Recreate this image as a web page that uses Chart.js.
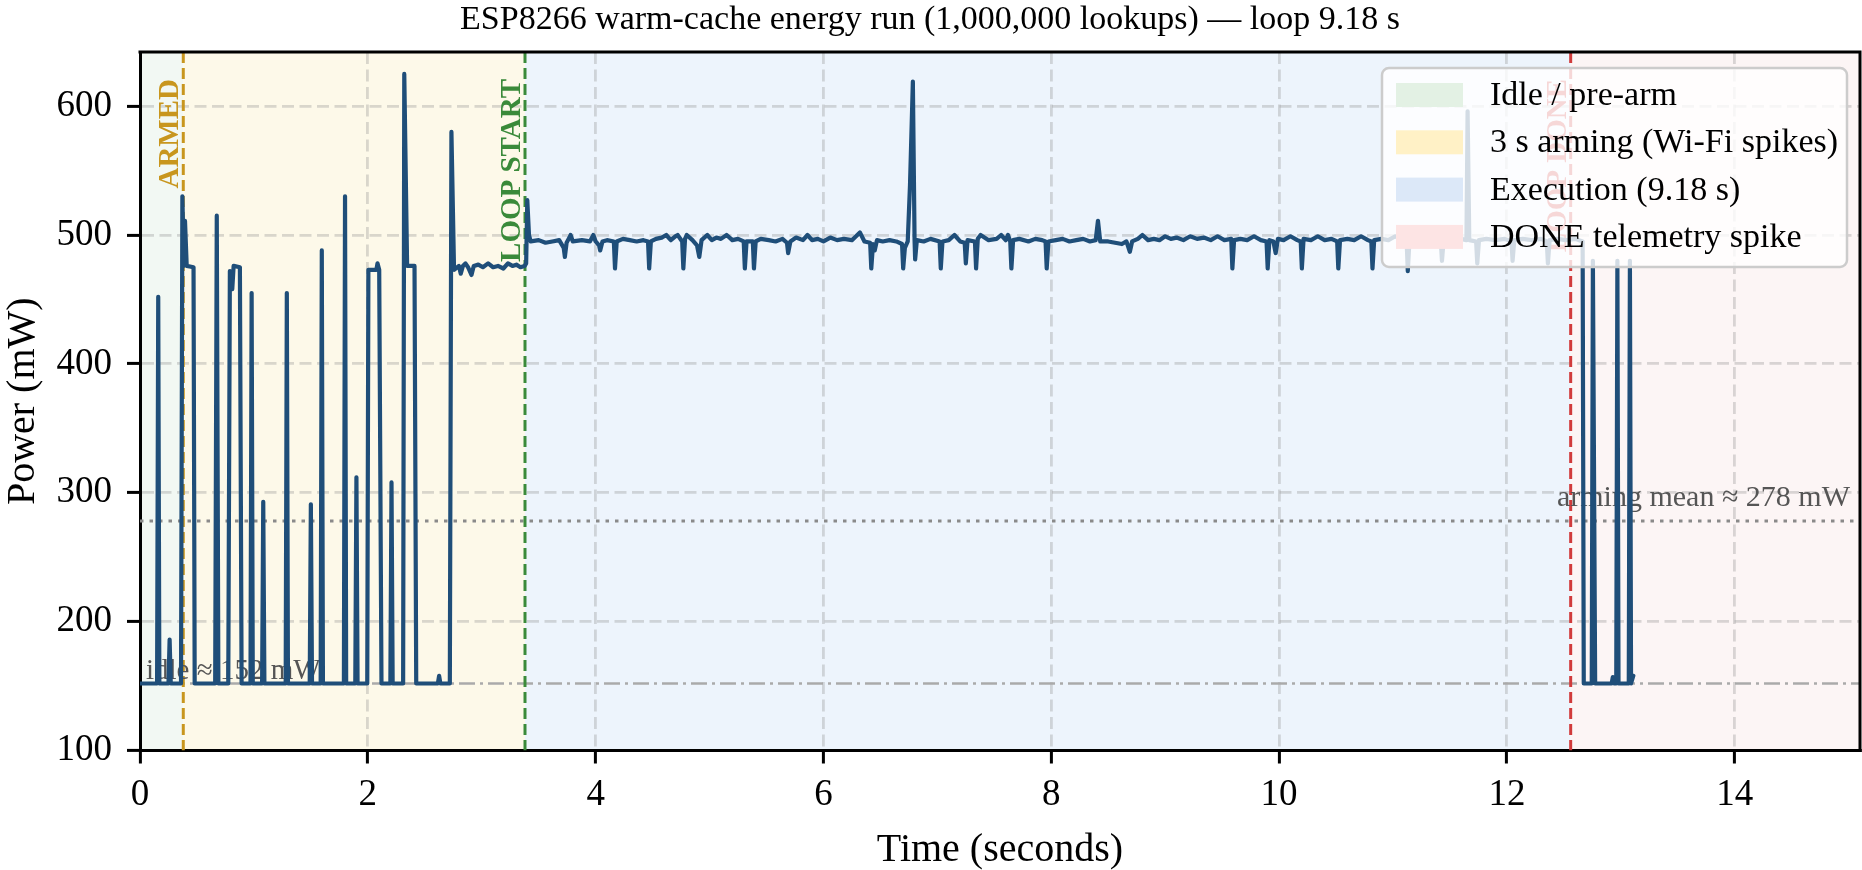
<!DOCTYPE html>
<html>
<head>
<meta charset="utf-8">
<script src="https://cdn.jsdelivr.net/npm/chart.js@4.4.1/dist/chart.umd.min.js"></script>
<style>
  html, body { margin: 0; padding: 0; background: #ffffff; }
  #wrap { width: 1862px; height: 870px; }
</style>
</head>
<body>
<div id="wrap"><canvas id="chart" width="1862" height="870"></canvas></div>
<script>
// ---------------- DATA ----------------
const chartTitle = 'ESP8266 warm-cache energy run (1,000,000 lookups) \u2014 loop 9.18 s';
const xAxisTitle = 'Time (seconds)';
const yAxisTitle = 'Power (mW)';

// phase boundaries (seconds) and names
const phaseBounds = [0, 0.38, 3.38, 12.56, 15.1];
const phaseLabels = ['Idle / pre-arm', '3 s arming (Wi-Fi spikes)', 'Execution (9.18 s)', 'DONE telemetry spike'];

// event markers
const markerTimes = [0.38, 3.38, 12.56];
const markerLabels = ['ARMED', 'LOOP START', 'LOOP DONE'];

// reference levels (mW)
const idleLevel = 152;
const armingMean = 278;
const idleText = 'idle \u2248 152 mW';
const meanText = 'arming mean \u2248 278 mW';

// axis ranges / ticks
const xRange = [0, 15.1];
const yRange = [100, 642];
const xTickStep = 2;
const yTickStep = 100;

// measured trace, [seconds, mW]
const idleArmingTrace = [
  [0, 152], [0.15, 152], [0.16, 452], [0.17, 152],
  [0.25, 152], [0.26, 186], [0.27, 152],
  [0.36, 152], [0.372, 530], [0.385, 476], [0.395, 511], [0.41, 476], [0.47, 475], [0.48, 152],
  [0.66, 152], [0.674, 515], [0.688, 152],
  [0.775, 152], [0.789, 472], [0.80, 470], [0.81, 458], [0.822, 476], [0.877, 475], [0.892, 152],
  [0.97, 152], [0.98, 455], [0.99, 152],
  [1.072, 152], [1.082, 293], [1.092, 152],
  [1.279, 152], [1.289, 455], [1.299, 152],
  [1.49, 152], [1.50, 291], [1.51, 152],
  [1.586, 152], [1.596, 488], [1.606, 152],
  [1.79, 152], [1.80, 530], [1.81, 152],
  [1.89, 152], [1.90, 312], [1.91, 152],
  [1.995, 152], [2.005, 473], [2.075, 473], [2.085, 478], [2.10, 473], [2.12, 152],
  [2.198, 152], [2.208, 308], [2.218, 152],
  [2.31, 152], [2.32, 625], [2.345, 476], [2.41, 476], [2.425, 152],
  [2.615, 152], [2.626, 158], [2.637, 152],
  [2.72, 152], [2.734, 580], [2.757, 473], [2.80, 476], [2.816, 470], [2.835, 476], [2.857, 478],
  [2.88, 475], [2.91, 469], [2.93, 476], [2.97, 477], [3.01, 475], [3.056, 478], [3.10, 475],
  [3.143, 476], [3.19, 474], [3.23, 478], [3.27, 476], [3.304, 477], [3.34, 475], [3.377, 476]
];

const executionTrace = [
  [3.39, 478], [3.40, 527], [3.415, 500], [3.43, 495],
  [3.50, 496], [3.56, 494], [3.62, 495], [3.68, 496], [3.72, 490], [3.73, 483], [3.745, 494],
  [3.77, 498], [3.78, 500], [3.80, 495], [3.88, 496], [3.95, 495], [3.98, 500], [4.00, 495],
  [4.03, 492], [4.04, 488], [4.06, 495], [4.10, 496], [4.16, 495], [4.17, 474], [4.185, 495],
  [4.24, 497], [4.30, 496], [4.36, 495], [4.42, 496], [4.46, 495], [4.47, 474], [4.485, 495],
  [4.53, 497], [4.58, 498], [4.62, 500], [4.66, 496], [4.70, 499], [4.72, 500], [4.76, 495],
  [4.77, 474], [4.785, 497], [4.80, 500], [4.85, 496], [4.89, 492], [4.91, 483], [4.93, 496],
  [4.98, 500], [5.02, 496], [5.06, 498], [5.10, 497], [5.15, 500], [5.20, 496], [5.25, 497],
  [5.30, 495], [5.31, 474], [5.325, 495], [5.38, 495], [5.39, 474], [5.405, 495], [5.45, 497],
  [5.52, 496], [5.58, 495], [5.64, 497], [5.68, 494], [5.69, 486], [5.71, 495], [5.76, 498],
  [5.82, 496], [5.86, 500], [5.90, 496], [5.95, 497], [6.00, 495], [6.06, 498], [6.12, 496],
  [6.18, 497], [6.25, 496], [6.32, 502], [6.36, 495], [6.41, 494], [6.42, 474], [6.435, 493],
  [6.45, 488], [6.47, 496], [6.52, 495], [6.58, 496], [6.64, 495], [6.69, 493], [6.70, 474],
  [6.715, 490], [6.74, 495], [6.76, 539], [6.785, 619], [6.80, 496], [6.805, 481], [6.82, 496],
  [6.88, 495], [6.94, 497], [7.02, 495], [7.03, 474], [7.045, 495], [7.10, 496], [7.15, 500],
  [7.20, 495], [7.24, 494], [7.25, 478], [7.265, 496], [7.33, 495], [7.34, 474], [7.355, 497],
  [7.38, 500], [7.45, 496], [7.52, 497], [7.56, 500], [7.60, 496], [7.62, 500], [7.64, 495],
  [7.65, 474], [7.665, 496], [7.72, 497], [7.80, 495], [7.86, 497], [7.92, 496], [7.95, 495],
  [7.96, 474], [7.975, 495], [8.04, 496], [8.10, 497], [8.16, 495], [8.22, 496], [8.28, 497],
  [8.34, 495], [8.39, 496], [8.41, 511], [8.43, 495], [8.50, 495], [8.56, 494], [8.62, 493],
  [8.66, 495], [8.69, 487], [8.71, 495], [8.76, 497], [8.80, 500], [8.85, 496], [8.90, 497],
  [8.95, 496], [9.00, 499], [9.05, 497], [9.10, 498], [9.16, 496], [9.22, 499], [9.28, 497],
  [9.34, 498], [9.40, 496], [9.46, 499], [9.52, 496], [9.58, 497], [9.59, 474], [9.605, 496],
  [9.66, 497], [9.72, 496], [9.78, 499], [9.84, 496], [9.89, 495], [9.90, 474], [9.915, 496],
  [9.95, 495], [9.97, 486], [9.99, 497], [10.04, 496], [10.10, 499], [10.16, 496], [10.19, 495],
  [10.20, 474], [10.215, 497], [10.28, 496], [10.34, 499], [10.40, 496], [10.46, 497], [10.51, 495],
  [10.52, 474], [10.535, 496], [10.60, 497], [10.66, 496], [10.72, 499], [10.78, 496], [10.81, 495],
  [10.82, 474], [10.835, 496], [10.90, 497], [10.96, 496], [11.02, 499], [11.08, 496], [11.12, 495],
  [11.13, 472], [11.145, 496], [11.20, 497], [11.28, 496], [11.36, 497], [11.42, 495], [11.43, 480],
  [11.445, 496], [11.52, 496], [11.60, 497], [11.645, 496], [11.655, 596], [11.67, 496], [11.73, 495],
  [11.74, 478], [11.755, 496], [11.82, 497], [11.90, 496], [11.98, 497], [12.04, 495], [12.05, 480],
  [12.065, 496], [12.14, 497], [12.22, 496], [12.30, 497], [12.35, 495], [12.36, 478], [12.375, 496],
  [12.44, 497], [12.52, 496], [12.60, 497], [12.665, 495]
];

const doneTrace = [
  [12.675, 152], [12.745, 152], [12.755, 480], [12.775, 152],
  [12.92, 152], [12.93, 157], [12.94, 152],
  [12.96, 152], [12.97, 480], [12.98, 152],
  [13.07, 152], [13.08, 480], [13.09, 152], [13.11, 158]
];

// ---------------- STYLE ----------------
const FONT = "'Liberation Serif', 'Times New Roman', serif";
const STYLE = {
  trace: '#1f4e79',
  bandFill: ['#f2f8f3', '#fdf9e9', '#edf4fc', '#fcf5f5'],
  legendSwatch: ['#e3f1e4', '#fff1c6', '#dce8f8', '#fde4e4'],
  marker: ['#c8961e', '#3a8a3a', '#d13b3b'],
  grid: 'rgba(150,150,150,0.35)',
  idleLine: '#aaaaaa',
  meanLine: '#8a8a8a',
  annot: '#555555'
};

const tracePoints = idleArmingTrace.concat(executionTrace, doneTrace).map(p => ({ x: p[0], y: p[1] }));

// ---------------- PLUGIN ----------------
const decorPlugin = {
  id: 'decor',
  beforeDraw(chart) {
    const { ctx, chartArea: a, scales: { x } } = chart;
    ctx.save();
    ctx.fillStyle = '#ffffff';
    ctx.fillRect(0, 0, chart.width, chart.height);
    for (let i = 0; i < phaseLabels.length; i++) {
      const x0 = Math.max(a.left, x.getPixelForValue(phaseBounds[i]));
      const x1 = Math.min(a.right, x.getPixelForValue(phaseBounds[i + 1]));
      ctx.fillStyle = STYLE.bandFill[i];
      ctx.fillRect(x0, a.top, x1 - x0, a.bottom - a.top);
    }
    ctx.restore();
  },
  beforeDatasetsDraw(chart) {
    const { ctx, chartArea: a, scales: { x, y } } = chart;
    ctx.save();
    ctx.beginPath();
    ctx.rect(a.left, a.top, a.right - a.left, a.bottom - a.top);
    ctx.clip();

    // horizontal reference lines
    const yIdle = y.getPixelForValue(idleLevel);
    ctx.strokeStyle = STYLE.idleLine; ctx.lineWidth = 2.5; ctx.setLineDash([16, 5, 3, 5]);
    ctx.beginPath(); ctx.moveTo(a.left, yIdle); ctx.lineTo(a.right, yIdle); ctx.stroke();
    const yMean = y.getPixelForValue(armingMean);
    ctx.strokeStyle = STYLE.meanLine; ctx.lineWidth = 3; ctx.setLineDash([3.5, 6]);
    ctx.beginPath(); ctx.moveTo(a.left, yMean); ctx.lineTo(a.right, yMean); ctx.stroke();

    // vertical markers
    ctx.lineWidth = 3; ctx.setLineDash([11, 5]);
    markerTimes.forEach((t, i) => {
      const px = x.getPixelForValue(t);
      ctx.strokeStyle = STYLE.marker[i];
      ctx.beginPath(); ctx.moveTo(px, a.top); ctx.lineTo(px, a.bottom); ctx.stroke();
    });
    ctx.setLineDash([]);

    // marker labels (rotated)
    ctx.font = 'bold 29px ' + FONT;
    ctx.textAlign = 'right';
    ctx.textBaseline = 'alphabetic';
    markerTimes.forEach((t, i) => {
      const px = x.getPixelForValue(t);
      ctx.save();
      ctx.translate(px - 5, a.top + 27);
      ctx.rotate(-Math.PI / 2);
      ctx.fillStyle = STYLE.marker[i];
      ctx.fillText(markerLabels[i], 0, 0);
      ctx.restore();
    });

    // annotation texts
    ctx.font = '29px ' + FONT;
    ctx.fillStyle = STYLE.annot;
    ctx.textAlign = 'left';
    ctx.fillText(idleText, a.left + 6, yIdle - 4);
    ctx.font = '30px ' + FONT;
    ctx.textAlign = 'right';
    ctx.fillText(meanText, a.right - 10, yMean - 15);
    ctx.restore();
  },
  afterDraw(chart) {
    const { ctx, chartArea: a } = chart;
    ctx.save();
    // top & right spines
    ctx.strokeStyle = '#000'; ctx.lineWidth = 3; ctx.setLineDash([]);
    ctx.beginPath();
    ctx.moveTo(a.left - 1.5, a.top); ctx.lineTo(a.right, a.top); ctx.lineTo(a.right, a.bottom + 1.5);
    ctx.stroke();

    // legend
    const lx = 1382, ly = 68, lw = 465, lh = 199, r = 7;
    ctx.beginPath();
    ctx.moveTo(lx + r, ly);
    ctx.arcTo(lx + lw, ly, lx + lw, ly + lh, r);
    ctx.arcTo(lx + lw, ly + lh, lx, ly + lh, r);
    ctx.arcTo(lx, ly + lh, lx, ly, r);
    ctx.arcTo(lx, ly, lx + lw, ly, r);
    ctx.closePath();
    ctx.fillStyle = 'rgba(255,255,255,0.8)';
    ctx.fill();
    ctx.strokeStyle = '#cccccc'; ctx.lineWidth = 2.5;
    ctx.stroke();
    ctx.font = '34px ' + FONT;
    ctx.textAlign = 'left';
    ctx.textBaseline = 'middle';
    phaseLabels.forEach((lab, i) => {
      const cy = 95 + i * 47.3;
      ctx.fillStyle = STYLE.legendSwatch[i];
      ctx.fillRect(1396, cy - 12, 67, 24);
      ctx.fillStyle = '#000';
      ctx.fillText(lab, 1490, cy + 1);
    });
    ctx.restore();
  }
};

// ---------------- CHART ----------------
const tickFont = { family: FONT, size: 37 };
const gridOpts = {
  color: STYLE.grid, lineWidth: 2.8,
  tickLength: 13, tickColor: '#000', tickWidth: 3, tickBorderDash: [0, 0]
};
const borderOpts = { display: true, color: '#000', width: 3, dash: [12, 5.5] };

new Chart(document.getElementById('chart').getContext('2d'), {
  type: 'line',
  data: {
    datasets: [{
      data: tracePoints,
      borderColor: STYLE.trace,
      borderWidth: 4.2,
      pointRadius: 0,
      tension: 0,
      fill: false,
      borderJoinStyle: 'round',
      borderCapStyle: 'round'
    }]
  },
  options: {
    responsive: false,
    animation: false,
    events: [],
    layout: { padding: { left: 0, right: 2, top: 0, bottom: 0 } },
    plugins: {
      legend: { display: false },
      tooltip: { enabled: false },
      title: {
        display: true,
        text: chartTitle,
        color: '#000',
        font: { family: FONT, size: 34, weight: 'normal', lineHeight: 0.8 },
        padding: { top: 6, bottom: 18.8 }
      }
    },
    scales: {
      x: {
        type: 'linear',
        min: xRange[0],
        max: xRange[1],
        afterFit(s) { s.height = 119.5; },
        ticks: {
          stepSize: xTickStep, includeBounds: false, autoSkip: false, maxRotation: 0,
          color: '#000', font: tickFont, padding: 10,
          callback: v => String(v)
        },
        grid: gridOpts,
        border: borderOpts,
        title: {
          display: true, text: xAxisTitle, color: '#000',
          font: { family: FONT, size: 40, lineHeight: 0.8 }, padding: { top: 0, bottom: 4 }
        }
      },
      y: {
        type: 'linear',
        min: yRange[0],
        max: yRange[1],
        afterFit(s) { s.width = 140; },
        ticks: {
          stepSize: yTickStep, includeBounds: false, autoSkip: false,
          color: '#000', font: tickFont, padding: 15,
          callback: v => String(v)
        },
        grid: gridOpts,
        border: borderOpts,
        title: {
          display: true, text: yAxisTitle, color: '#000',
          font: { family: FONT, size: 40, lineHeight: 0.8 }, padding: { top: 7, bottom: 0 }
        }
      }
    }
  },
  plugins: [decorPlugin]
});
</script>
</body>
</html>
